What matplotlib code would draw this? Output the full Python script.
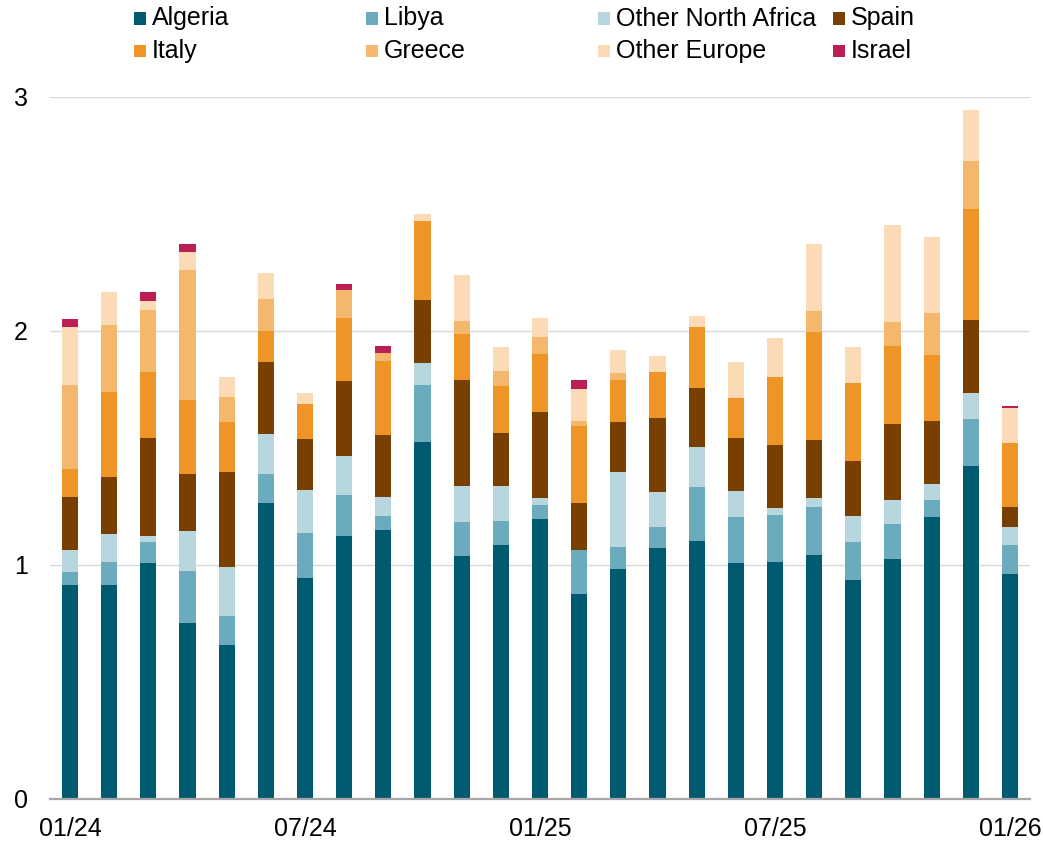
import matplotlib
matplotlib.use("Agg")
import matplotlib.pyplot as plt
from matplotlib.patches import Rectangle
import numpy as np

plt.rcParams["font.family"] = ["Liberation Sans", "DejaVu Sans"]

months = ["01/24", "02/24", "03/24", "04/24", "05/24", "06/24", "07/24", "08/24",
          "09/24", "10/24", "11/24", "12/24", "01/25", "02/25", "03/25", "04/25",
          "05/25", "06/25", "07/25", "08/25", "09/25", "10/25", "11/25", "12/25",
          "01/26"]
tick_labels = ["01/24", "07/24", "01/25", "07/25", "01/26"]

algeria = [0.911, 0.911, 1.006, 0.749, 0.655, 1.262, 0.941, 1.121, 1.147, 1.523,
           1.036, 1.083, 1.194, 0.873, 0.980, 1.070, 1.100, 1.006, 1.010, 1.040,
           0.933, 1.023, 1.202, 1.424, 0.958]
libya = [0.056, 0.099, 0.090, 0.222, 0.124, 0.124, 0.193, 0.175, 0.060, 0.244,
         0.146, 0.103, 0.060, 0.188, 0.094, 0.090, 0.231, 0.197, 0.201, 0.205,
         0.163, 0.150, 0.073, 0.198, 0.128]
other_north_africa = [0.094, 0.120, 0.026, 0.171, 0.210, 0.171, 0.184, 0.167, 0.081, 0.094,
                      0.154, 0.150, 0.030, 0.000, 0.321, 0.150, 0.171, 0.111, 0.030, 0.039,
                      0.111, 0.103, 0.068, 0.114, 0.074]
spain = [0.227, 0.244, 0.419, 0.244, 0.407, 0.308, 0.218, 0.321, 0.265, 0.270,
         0.454, 0.227, 0.368, 0.201, 0.214, 0.317, 0.253, 0.227, 0.270, 0.248,
         0.235, 0.325, 0.270, 0.312, 0.086]
italy = [0.119, 0.365, 0.283, 0.317, 0.213, 0.133, 0.150, 0.270, 0.317, 0.337,
         0.197, 0.201, 0.248, 0.330, 0.180, 0.197, 0.260, 0.171, 0.291, 0.462,
         0.337, 0.333, 0.282, 0.472, 0.274]
greece = [0.361, 0.287, 0.264, 0.559, 0.108, 0.137, 0.000, 0.119, 0.034, 0.000,
          0.056, 0.064, 0.073, 0.021, 0.030, 0.000, 0.000, 0.000, 0.000, 0.090,
          0.000, 0.104, 0.180, 0.205, 0.000]
other_europe = [0.248, 0.139, 0.041, 0.074, 0.086, 0.111, 0.050, 0.000, 0.000, 0.030,
                0.196, 0.101, 0.081, 0.137, 0.098, 0.070, 0.048, 0.155, 0.166, 0.287,
                0.154, 0.415, 0.328, 0.218, 0.152]
israel = [0.033, 0.000, 0.037, 0.034, 0.000, 0.000, 0.000, 0.028, 0.033, 0.000,
          0.000, 0.000, 0.000, 0.039, 0.000, 0.000, 0.000, 0.000, 0.000, 0.000,
          0.000, 0.000, 0.000, 0.000, 0.007]

series_names = ["Algeria", "Libya", "Other North Africa", "Spain",
                "Italy", "Greece", "Other Europe", "Israel"]
series_values = [algeria, libya, other_north_africa, spain,
                 italy, greece, other_europe, israel]
series_colors = ["#005b71", "#6babbd", "#b7d6de", "#773f00",
                 "#ef9426", "#f3b86d", "#fbdbb5", "#bb1f53"]

W, H = 1043, 842
fig = plt.figure(figsize=(W / 100, H / 100), dpi=100)
ax = fig.add_axes([50 / W, 1 - 798.5 / H, 980 / W, (798.5 - 97) / H])

x = np.arange(len(months))
bottom = np.zeros(len(months))
for vals, color in zip(series_values, series_colors):
    v = np.array(vals)
    ax.bar(x, v, bottom=bottom, width=0.41, color=color, linewidth=0, zorder=3)
    bottom += v

ax.set_xlim(-0.511, len(months) - 1 + 0.511)
ax.set_ylim(0, 3)
ax.set_yticks([0, 1, 2, 3])
ax.set_yticklabels(["0", "1", "2", "3"])
tick_pos = [months.index(t) for t in tick_labels]
ax.set_xticks(tick_pos)
ax.set_xticklabels(tick_labels)

ax.tick_params(axis="y", length=0, pad=16, labelsize=18)
ax.tick_params(axis="x", length=0, pad=13, labelsize=18)
ax.grid(axis="y", color="#d9d9d9", linewidth=1.0, zorder=0)
ax.set_axisbelow(True)
for side in ["top", "right", "left"]:
    ax.spines[side].set_visible(False)
ax.spines["bottom"].set_color("#a6a6a6")
ax.spines["bottom"].set_linewidth(1.6)
ax.spines["bottom"].set_zorder(4)

# Legend: two rows of four entries across the top
col_x = [134, 366, 598, 833]
row_y = [18.5, 51]
for i, (name, color) in enumerate(zip(series_names, series_colors)):
    cx = col_x[i % 4]
    cy = row_y[i // 4]
    fig.patches.append(Rectangle((cx / W, 1 - (cy + 6) / H), 12 / W, 12 / H,
                                 transform=fig.transFigure, facecolor=color,
                                 edgecolor="none"))
    fig.text((cx + 18) / W, 1 - cy / H, name, fontsize=18, va="center",
             ha="left", color="black")

fig.savefig("out.png", dpi=100)
